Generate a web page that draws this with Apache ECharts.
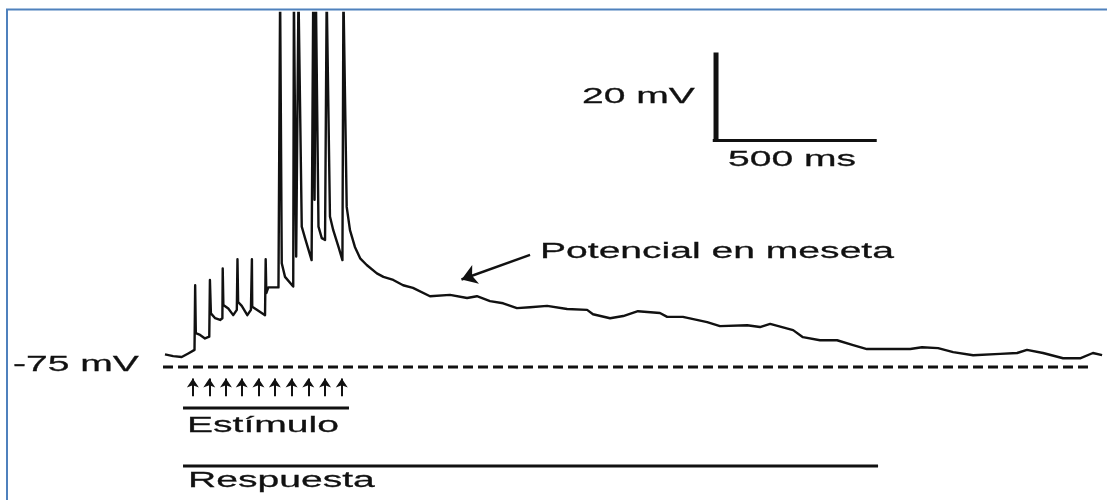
<!DOCTYPE html>
<html>
<head>
<meta charset="utf-8">
<script src="https://cdn.jsdelivr.net/npm/echarts@6/dist/echarts.min.js"></script>
<style>
  html, body { margin: 0; padding: 0; background: #ffffff; }
  #chart { width: 1107px; height: 500px; }
</style>
</head>
<body>
<div id="chart"></div>
<script>
// ---- data (time in ms from stimulus-train onset, membrane potential in mV) ----
const timeMs = [
  -55, -30, -4, 16, 35, 37, 39, 52, 67, 80,
  82, 85, 98, 113, 120, 121, 123, 138, 153, 164,
  166, 168, 179, 196, 207, 210, 211, 225, 250, 252,
  254, 260, 291, 294, 296, 301, 311, 336, 338, 345,
  347, 352, 362, 372, 392, 397, 401, 405, 413, 423,
  433, 438, 448, 458, 474, 486, 489, 499, 509, 524,
  540, 560, 591, 611, 641, 671, 701, 753, 814, 866,
  896, 936, 976, 1018, 1058, 1110, 1171, 1232, 1250, 1302,
  1342, 1387, 1454, 1476, 1524, 1598, 1637, 1720, 1759, 1790,
  1860, 1890, 1942, 1994, 2043, 2085, 2125, 2217, 2253, 2302,
  2348, 2409, 2491, 2543, 2573, 2622, 2683, 2735, 2774, 2802
];
const membraneMv = [
  -72.1, -72.5, -72.7, -71.9, -71.1, -56.4, -67.3, -67.7, -68.5, -68.1,
  -55.2, -62.8, -63.9, -64.3, -63.9, -52.6, -60.9, -61.7, -63.2, -62.0,
  -50.5, -60.2, -61.1, -63.2, -62.0, -50.5, -61.3, -62.0, -63.2, -50.5,
  -58.2, -56.9, -56.9, -56.7, 10, -51.4, -54.5, -56.7, 10, -49.9,
  -50.3, 10, -43.1, -45.7, -50.7, 10, -37.0, 10, -43.1, -45.7,
  -46.1, 10, -40.8, -43.9, -47.7, -50.7, 10, -38.6, -43.9, -47.7,
  -50.3, -51.8, -53.7, -54.5, -55.2, -56.4, -57.0, -58.9, -58.6, -59.3,
  -58.9, -60.0, -60.5, -61.6, -61.4, -61.1, -61.8, -62.0, -63.0, -63.9,
  -63.4, -62.3, -62.7, -63.6, -63.6, -64.8, -65.7, -65.5, -65.9, -65.2,
  -66.6, -68.2, -68.9, -68.9, -70.0, -70.9, -70.9, -70.9, -70.5, -70.7,
  -71.6, -72.3, -72.0, -71.8, -71.1, -71.8, -73.0, -73.0, -71.8, -72.3
];
const restingMv = -75;
const restingSpanMs = [-61, 2759];
const stimulusMs = [30, 80, 131, 179, 230, 280, 331, 382, 433, 484];
const stimulusArrowMv = [-81.6, -77.6];
const stimulusBarMs = [0, 506];
const stimulusBarMv = -84.3;
const responseBarMs = [0, 2119];
const responseBarMv = -97.5;
const scaleOrigin = [1615, -23.5];
const scaleBarMs = 500;
const scaleBarMv = 20;
const plateauArrow = [[1058, -49.5], [849, -55.1]];
const labels = ['20 mV', '500 ms', 'Potencial en meseta', '-75 mV', 'Estímulo', 'Respuesta'];

// ---- chart ----
const trace = timeMs.map((t, i) => [t, membraneMv[i]]);
const ink = '#111111';
const chart = echarts.init(document.getElementById('chart'), null, { renderer: 'canvas' });

function txt(s, x, y) {
  return {
    type: 'text', x: x, y: y, scaleX: 1.86, scaleY: 1.03, z: 10,
    style: {
      text: s, font: '21px "Liberation Sans", Arial, sans-serif',
      fill: ink, stroke: ink, lineWidth: 0.25,
      textAlign: 'left', textVerticalAlign: 'middle'
    }
  };
}

const option = {
  backgroundColor: '#ffffff',
  animation: false,
  grid: { left: 0, right: 0, top: 13, bottom: 0, containLabel: false },
  xAxis: { type: 'value', min: -558, max: 2817, show: false, splitLine: { show: false } },
  yAxis: { type: 'value', min: -105.2, max: 5.45, show: false, splitLine: { show: false } },
  series: [
    {
      name: 'trace', type: 'line', data: trace, symbol: 'none', clip: true,
      lineStyle: { color: ink, width: 2.4, join: 'round' }, z: 5
    },
    {
      name: 'resting', type: 'line', symbol: 'none',
      data: [[restingSpanMs[0], restingMv], [restingSpanMs[1], restingMv]],
      lineStyle: { color: ink, width: 3, type: [10, 5] },
      markLine: {
        silent: true, symbol: ['none', 'arrow'], symbolSize: 9,
        label: { show: false },
        lineStyle: { color: ink, width: 2, type: 'solid' },
        data: stimulusMs.map(t => [{ coord: [t, stimulusArrowMv[0]] }, { coord: [t, stimulusArrowMv[1]] }])
      }
    },
    {
      name: 'plateauArrow', type: 'line', symbol: 'none', data: [],
      markLine: {
        silent: true, symbol: ['none', 'arrow'], symbolSize: 15,
        label: { show: false },
        lineStyle: { color: ink, width: 2.4, type: 'solid' },
        data: [[{ coord: plateauArrow[0] }, { coord: plateauArrow[1] }]]
      }
    },
    {
      name: 'stimulusBar', type: 'line', symbol: 'none',
      data: [[stimulusBarMs[0], stimulusBarMv], [stimulusBarMs[1], stimulusBarMv]],
      lineStyle: { color: ink, width: 3 }
    },
    {
      name: 'responseBar', type: 'line', symbol: 'none',
      data: [[responseBarMs[0], responseBarMv], [responseBarMs[1], responseBarMv]],
      lineStyle: { color: ink, width: 3 }
    },
    {
      name: 'scaleV', type: 'line', symbol: 'none',
      data: [[scaleOrigin[0] + 10, scaleOrigin[1]], [scaleOrigin[0] + 10, scaleOrigin[1] + scaleBarMv]],
      lineStyle: { color: ink, width: 5 }
    },
    {
      name: 'scaleH', type: 'line', symbol: 'none',
      data: [[scaleOrigin[0], scaleOrigin[1]], [scaleOrigin[0] + scaleBarMs, scaleOrigin[1]]],
      lineStyle: { color: ink, width: 3 }
    }
  ],
  graphic: [
    {
      type: 'polyline', z: 20,
      shape: { points: [[7, 500], [7, 9.5], [1107, 9.5]] },
      style: { stroke: '#4F81BD', lineWidth: 2, fill: null }
    },
    txt(labels[0], 582, 97.5),
    txt(labels[1], 728, 160),
    txt(labels[2], 540, 252),
    txt(labels[3], 13, 365),
    txt(labels[4], 187, 426),
    txt(labels[5], 188, 481)
  ]
};
chart.setOption(option);
</script>
</body>
</html>
